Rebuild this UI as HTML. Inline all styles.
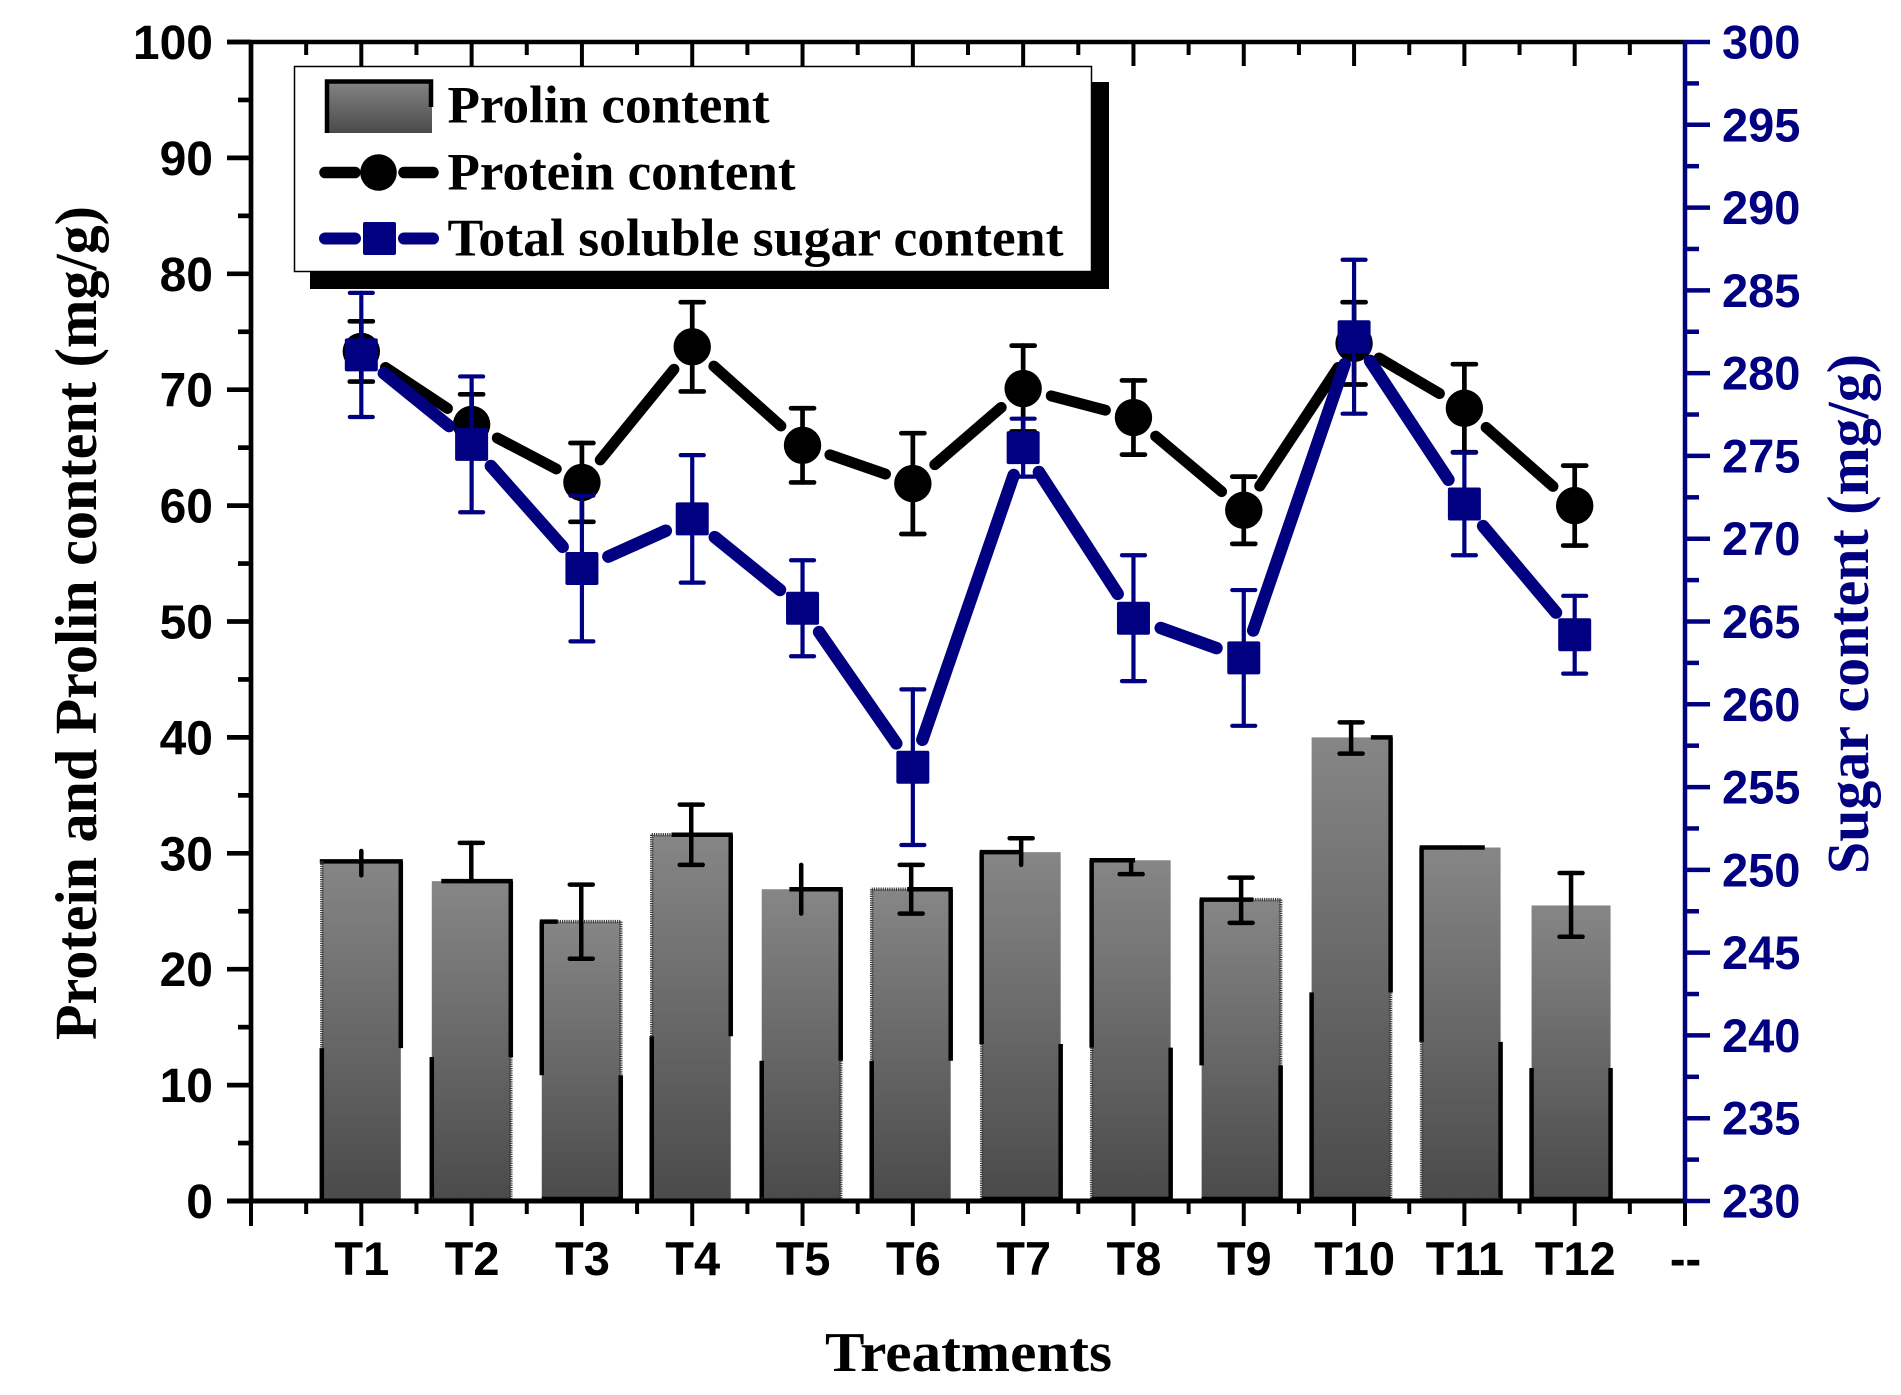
<!DOCTYPE html>
<html lang="en">
<head>
<meta charset="utf-8">
<title>Protein, Prolin and Sugar content by treatment</title>
<style>
html,body{margin:0;padding:0;background:#fff;width:1901px;height:1395px;overflow:hidden}
svg{display:block}
.sans{font-family:"Liberation Sans",Arial,sans-serif;font-weight:700}
.serif{font-family:"Liberation Serif","Times New Roman",serif;font-weight:700}
</style>
</head>
<body>
<svg id="chart" xmlns="http://www.w3.org/2000/svg" width="1901" height="1395" viewBox="0 0 1901 1395">
  <defs>
    <linearGradient id="barFill" x1="0" y1="0" x2="0" y2="1">
      <stop offset="0" stop-color="#868686"/>
      <stop offset="1" stop-color="#4a4a4a"/>
    </linearGradient>
  </defs>
  <rect width="1901" height="1395" fill="#fff"/>
  <g id="bars"></g>
  <g id="axes"></g>
  <g id="protein"></g>
  <g id="sugar"></g>

  <text class="serif" transform="translate(96,1040) rotate(-90)" font-size="59" textLength="834" lengthAdjust="spacingAndGlyphs" fill="#000">Protein and Prolin content (mg/g)</text>
  <text class="serif" transform="translate(1868,874) rotate(-90)" font-size="59" textLength="520" lengthAdjust="spacingAndGlyphs" fill="#000080">Sugar content (mg/g)</text>
  <text class="serif" x="825" y="1371" font-size="56" textLength="287" lengthAdjust="spacingAndGlyphs" fill="#000">Treatments</text>

  <g>
    <rect x="310" y="82" width="799" height="207" fill="#000"/>
    <rect x="294.5" y="66.5" width="797" height="205" fill="#fff" stroke="#000" stroke-width="1.5"/>
    <g>
      <rect x="325" y="80" width="107" height="53" fill="url(#barFill)"/>
      <path d="M327 133V81.5H431V107" fill="none" stroke="#000" stroke-width="4.5"/>
      <text class="serif" x="447.5" y="122.5" font-size="53" textLength="322" lengthAdjust="spacingAndGlyphs">Prolin content</text>
    </g>
    <g>
      <path d="M325 172.5H355M404 172.5H433" stroke="#000" stroke-width="11.5" stroke-linecap="round" fill="none"/>
      <circle cx="378.5" cy="172.5" r="18.3" fill="#000"/>
      <text class="serif" x="447.5" y="189.5" font-size="53" textLength="348" lengthAdjust="spacingAndGlyphs">Protein content</text>
    </g>
    <g>
      <path d="M325 238.5H355M404 238.5H433" stroke="#000080" stroke-width="12" stroke-linecap="round" fill="none"/>
      <rect x="363" y="222" width="33" height="33" rx="2" fill="#000080"/>
      <text class="serif" x="447.5" y="255.5" font-size="53" textLength="616" lengthAdjust="spacingAndGlyphs">Total soluble sugar content</text>
    </g>
  </g>
</svg>
<script>
// ---- chart data ----
const categories = ["T1","T2","T3","T4","T5","T6","T7","T8","T9","T10","T11","T12"];
const prolinValues = [29.3,27.6,24.1,31.6,26.9,26.9,30.1,29.4,26.0,40.0,30.5,25.5];
const prolinErrUp = [0.9,3.3,3.2,2.6,2.1,2.1,1.2,0.0,1.9,1.3,0.0,2.8];
const prolinErrDown = [1.2,0.0,3.2,2.6,2.1,2.1,1.1,1.2,2.0,1.4,0.0,2.7];
const proteinValues = [73.3,67.0,62.0,73.7,65.2,61.9,70.1,67.6,59.6,74.0,68.4,60.0];
const proteinErr = [2.6,2.6,3.4,3.85,3.2,4.35,3.7,3.2,2.9,3.55,3.8,3.45];
const sugarValues = [281.1,275.7,268.2,271.2,265.8,256.2,275.5,265.2,262.8,282.2,272.1,264.2];
const sugarErr = [3.75,4.1,4.4,3.85,2.9,4.7,1.75,3.8,4.1,4.65,3.1,2.35];
const leftTicks = [0,10,20,30,40,50,60,70,80,90,100];
const rightTicks = [230,235,240,245,250,255,260,265,270,275,280,285,290,295,300];
const extraCategory = "--";

// ---- bar outline styling (the source figure has broken outlines) ----
// sides: left-upper, right-upper, left-lower, right-lower (S solid, D dotted, N none)
const outlineSides = ["DSSN","NSSD","SDNS","DSSN","NSSD","DSSN","SNDS","SNDS","SDNS","NSSD","SNDS","NNSS"];
const outlineTopFrom = [0,0.12,0,0.25,0.35,0.45,0,0,0,0.75,0,0];
const outlineTopTo = [1,1,0.2,1,1,1,0.5,0.55,0.65,1,0.8,0];
const outlineTopRest = ["N","N","D","D","N","D","N","N","D","N","N","N"];
const outlineBottom = ["N","D","S","N","D","N","S","S","S","S","D","S"];
// error-bar caps drawn on prolin bars: N none, U upper, L lower, B both
const prolinCaps = ["N","U","B","B","N","B","U","L","B","B","N","B"];

// ---- axis functions ----
const plot = {left:251, right:1685, top:42, bottom:1201};
const step = (plot.right - plot.left) / 13;
const xPos = i => plot.left + step * i;
const xBar = i => xPos(1) + (step - 0.33) * i;
const yLeft = v => plot.bottom - (v - 0) / (100 - 0) * (plot.bottom - plot.top);
const yRight = v => plot.bottom - (v - 230) / (300 - 230) * (plot.bottom - plot.top);
const NAVY = "#000080";
const SVGNS = "http://www.w3.org/2000/svg";

function mk(tag, attrs, parent) {
  const el = document.createElementNS(SVGNS, tag);
  for (const k in attrs) el.setAttribute(k, attrs[k]);
  parent.appendChild(el);
  return el;
}

function seg(parent, x1, y1, x2, y2, style) {
  if (style === "N") return;
  const a = {x1:x1, y1:y1, x2:x2, y2:y2};
  if (style === "S") { a.stroke = "#000"; a["stroke-width"] = 4.5; }
  else { a.stroke = "#3c3c3c"; a["stroke-width"] = 3.5; a["stroke-dasharray"] = "1.2 1"; }
  const el = mk("line", a, parent);
  
  
}

function errorBar(parent, x, yHigh, yLow, color, sw, capHigh, capLow) {
  const g = mk("g", {stroke:color, "stroke-width":sw, "stroke-linecap":"round"}, parent);
  
  
  mk("line", {x1:x, x2:x, y1:yHigh, y2:yLow}, g);
  if (capHigh) mk("line", {x1:x-11.5, x2:x+11.5, y1:yHigh, y2:yHigh}, g);
  if (capLow) mk("line", {x1:x-11.5, x2:x+11.5, y1:yLow, y2:yLow}, g);
}

function connect(parent, xs, ys, color, width, name) {
  const gap = 29;
  for (let i = 0; i < xs.length - 1; i++) {
    const dx = xs[i+1] - xs[i], dy = ys[i+1] - ys[i];
    const len = Math.hypot(dx, dy);
    if (len <= gap * 2) continue;
    const ux = dx / len, uy = dy / len;
    const line = mk("line", {
      x1: xs[i] + ux * gap, y1: ys[i] + uy * gap,
      x2: xs[i+1] - ux * gap, y2: ys[i+1] - uy * gap,
      stroke: color, "stroke-width": width, "stroke-linecap": "round"
    }, parent);
    
    
  }
}

// ---- bars ----
const barsG = document.getElementById("bars");
const barW = 79;
categories.forEach((c, i) => {
  const cx = xBar(i), top = yLeft(prolinValues[i]), base = yLeft(0);
  const brk = yLeft(prolinValues[i] * 0.45);
  const l = cx - barW / 2, r = cx + barW / 2;
  const g = mk("g", {}, barsG);
  
  
  mk("rect", {x:l, y:top, width:barW, height:base - top, fill:"url(#barFill)"}, g);
  const s = outlineSides[i];
  const from = outlineTopFrom[i], to = outlineTopTo[i];
  if (from > 0) seg(g, l, top, l + barW * from, top, outlineTopRest[i]);
  if (to < 1) seg(g, l + barW * to, top, r, top, outlineTopRest[i]);
  if (to > from) seg(g, l + barW * from - (from === 0 ? 2 : 0), top, l + barW * to + (to === 1 ? 2 : 0), top, "S");
  seg(g, l, top, l, brk, s[0]);
  seg(g, r, top, r, brk, s[1]);
  seg(g, l, brk, l, base, s[2]);
  seg(g, r, brk, r, base, s[3]);
  seg(g, l, base - 2, r, base - 2, outlineBottom[i]);
  const cap = prolinCaps[i];
  errorBar(g, cx, yLeft(prolinValues[i] + prolinErrUp[i]), yLeft(prolinValues[i] - prolinErrDown[i]), "#000", 4.5, cap === "U" || cap === "B", cap === "L" || cap === "B");
});

// ---- axes ----
const axesG = document.getElementById("axes");
function axisLine(x1, y1, x2, y2, color, sw, name) {
  const el = mk("line", {x1:x1, y1:y1, x2:x2, y2:y2, stroke:color, "stroke-width":sw}, axesG);
  
  
}
axisLine(plot.left - 24, plot.top, plot.right, plot.top, "#000", 4.5, "top-axis-line");
axisLine(plot.left - 24, plot.bottom, plot.right, plot.bottom, "#000", 5, "x-axis-line");
axisLine(plot.left, plot.top, plot.left, plot.bottom, "#000", 4.7, "left-axis-line");

for (let i = 0; i <= 13; i++) {
  const x = xPos(i);
  axisLine(x, plot.top, x, plot.top + 24, "#000", 4, "top-major-tick");
  axisLine(x, plot.bottom, x, plot.bottom + 25, "#000", 4, "x-major-tick");
  if (i < 13) {
    const xm = x + step / 2;
    axisLine(xm, plot.top, xm, plot.top + 13, "#000", 4, "top-minor-tick");
    axisLine(xm, plot.bottom, xm, plot.bottom + 13, "#000", 4, "x-minor-tick");
  }
  if (i >= 1) {
    const t = mk("text", {x:x + 0.5, y:1275, "text-anchor":"middle", "font-size":47, class:"sans", fill:"#000"}, axesG);
    t.textContent = i <= categories.length ? categories[i - 1] : extraCategory;
    
    
  }
}

leftTicks.forEach((v, i) => {
  const y = yLeft(v);
  axisLine(plot.left - 24, y, plot.left, y, "#000", 4.7, "left-major-tick");
  if (i < leftTicks.length - 1) {
    const ym = yLeft((v + leftTicks[i + 1]) / 2);
    axisLine(plot.left - 13, ym, plot.left, ym, "#000", 4.7, "left-minor-tick");
  }
  const t = mk("text", {x:plot.left - 38, y:y + 17, "text-anchor":"end", "font-size":48, class:"sans", fill:"#000"}, axesG);
  t.textContent = v;
  
  
});

axisLine(plot.right, plot.top - 2, plot.right, plot.bottom + 2, NAVY, 4.5, "right-axis-line");
rightTicks.forEach((v, i) => {
  const y = yRight(v);
  axisLine(plot.right, y, plot.right + 25, y, NAVY, 4.5, "right-major-tick");
  if (i < rightTicks.length - 1) {
    const ym = yRight((v + rightTicks[i + 1]) / 2);
    axisLine(plot.right, ym, plot.right + 14, ym, NAVY, 4.5, "right-minor-tick");
  }
  const t = mk("text", {x:plot.right + 37, y:y + 16.5, "font-size":47, class:"sans", fill:NAVY}, axesG);
  t.textContent = v;
  
  
});

// ---- protein series ----
const proteinG = document.getElementById("protein");
const xs = categories.map((c, i) => xPos(i + 1));
const proteinYs = proteinValues.map(yLeft);
proteinValues.forEach((v, i) => {
  errorBar(proteinG, xs[i], yLeft(v + proteinErr[i]), yLeft(v - proteinErr[i]), "#000", 4.7, true, true);
});
connect(proteinG, xs, proteinYs, "#000", 11, "protein-line-segment");
proteinValues.forEach((v, i) => {
  const m = mk("circle", {cx:xs[i], cy:proteinYs[i], r:18.7, fill:"#000"}, proteinG);
  
  
});

// ---- sugar series ----
const sugarG = document.getElementById("sugar");
const sugarYs = sugarValues.map(yRight);
sugarValues.forEach((v, i) => {
  errorBar(sugarG, xs[i], yRight(v + sugarErr[i]), yRight(v - sugarErr[i]), NAVY, 4.2, true, true);
});
connect(sugarG, xs, sugarYs, NAVY, 12.5, "sugar-line-segment");
sugarValues.forEach((v, i) => {
  const m = mk("rect", {x:xs[i] - 16.5, y:sugarYs[i] - 16.5, width:33, height:33, rx:2, fill:NAVY}, sugarG);
  
  
});
</script>
</body>
</html>
